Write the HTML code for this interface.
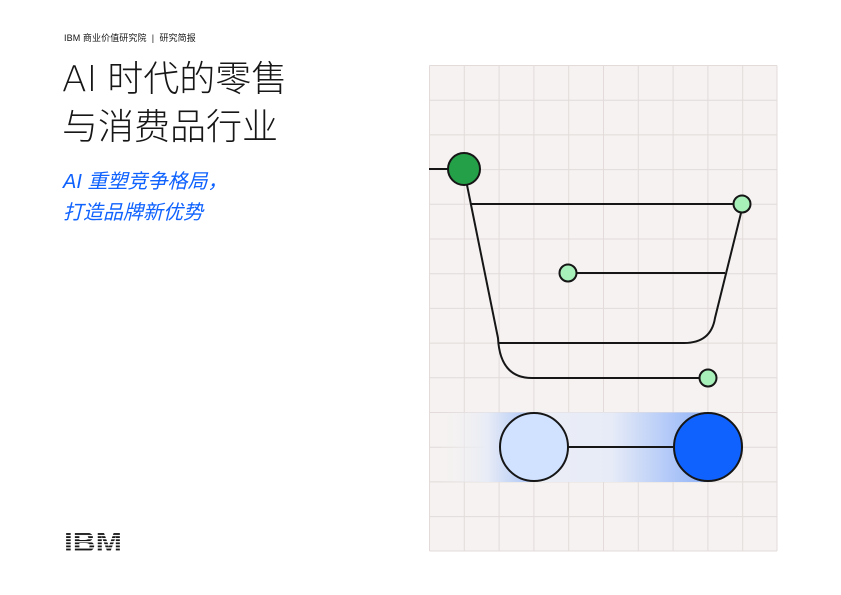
<!DOCTYPE html>
<html><head><meta charset="utf-8"><style>
html,body{margin:0;padding:0;background:#fff;}
body{width:841px;height:595px;position:relative;overflow:hidden;font-family:"Liberation Sans","Noto Sans CJK SC",sans-serif;}
.hdr{position:absolute;left:64px;top:31px;font-size:9px;color:#161616;white-space:nowrap;letter-spacing:0.1px}
.t{position:absolute;left:62px;font-size:36px;font-weight:300;color:#161616;white-space:nowrap;line-height:1}
.t .ai{font-family:"DejaVu Sans ExtraLight","DejaVu Sans","Liberation Sans",sans-serif;font-weight:200}
.s{position:absolute;left:63px;font-size:20px;font-style:italic;color:#0f62fe;white-space:nowrap;line-height:1}
svg{position:absolute;left:0;top:0}
</style></head><body>
<div class="hdr">IBM 商业价值研究院 &nbsp;|&nbsp; 研究简报</div>
<div class="t" style="top:61px"><span class="ai">AI</span> 时代的零售</div>
<div class="t" style="top:109px">与消费品行业</div>
<div class="s" style="top:172px">AI 重塑竞争格局，</div>
<div class="s" style="top:203px">打造品牌新优势</div>
<svg width="841" height="595" viewBox="0 0 841 595">
<defs>
<linearGradient id="g1" x1="0" x2="1"><stop offset="0" stop-color="#f5f2f1" stop-opacity="0"/><stop offset="0.5" stop-color="#e8ecf6"/><stop offset="1" stop-color="#a9c4f7"/></linearGradient>
<linearGradient id="g2" x1="0" x2="1"><stop offset="0" stop-color="#eceef5"/><stop offset="0.45" stop-color="#e6ebf7"/><stop offset="1" stop-color="#8fb2f8"/></linearGradient>
<pattern id="st" width="10" height="3.1" patternUnits="userSpaceOnUse" y="530"><rect width="10" height="1.3" y="1.8" fill="#fff"/></pattern>
</defs>
<rect x="429.5" y="65.5" width="347.5" height="485.5" fill="#f5f2f1"/>
<g stroke="#e2dbda" stroke-width="1">
<path d="M429.5 65.5V551M464.3 65.5V551M499.1 65.5V551M533.9 65.5V551M568.7 65.5V551M603.5 65.5V551M638.3 65.5V551M673.1 65.5V551M707.9 65.5V551M742.7 65.5V551M777 65.5V551"/>
<path d="M429.5 65.5H777M429.5 100.2H777M429.5 134.9H777M429.5 169.6H777M429.5 204.3H777M429.5 239H777M429.5 273.7H777M429.5 308.4H777M429.5 343.1H777M429.5 377.8H777M429.5 412.5H777M429.5 447.2H777M429.5 481.9H777M429.5 516.6H777M429.5 551H777"/>
</g>
<rect x="440" y="412.5" width="94" height="69.5" fill="url(#g1)"/>
<rect x="534" y="412.5" width="174" height="69.5" fill="url(#g2)"/>
<g fill="none" stroke="#161616" stroke-width="2">
<path d="M429 169H448"/>
<path d="M467 185L498 338Q500 378 532 378H699"/>
<path d="M471 204H733"/>
<path d="M741 213L715 318Q711 343 684 343H499"/>
<path d="M577 273H725"/>
<path d="M568 447H673"/>
</g>
<g stroke="#161616" stroke-width="2">
<circle cx="464" cy="169" r="16" fill="#24a148"/>
<circle cx="742" cy="204" r="8.5" fill="#a7f0ba"/>
<circle cx="568" cy="273" r="8.5" fill="#a7f0ba"/>
<circle cx="708" cy="378" r="8.5" fill="#a7f0ba"/>
<circle cx="534" cy="447" r="34" fill="#d0e2ff"/>
<circle cx="708" cy="447" r="34" fill="#0f62fe"/>
</g>
<text x="64" y="551.5" font-family="Liberation Sans" font-weight="bold" font-size="28" textLength="58" lengthAdjust="spacingAndGlyphs" fill="#161616">IBM</text>
<rect x="62" y="529" width="64" height="24" fill="url(#st)"/>
</svg>
</body></html>
